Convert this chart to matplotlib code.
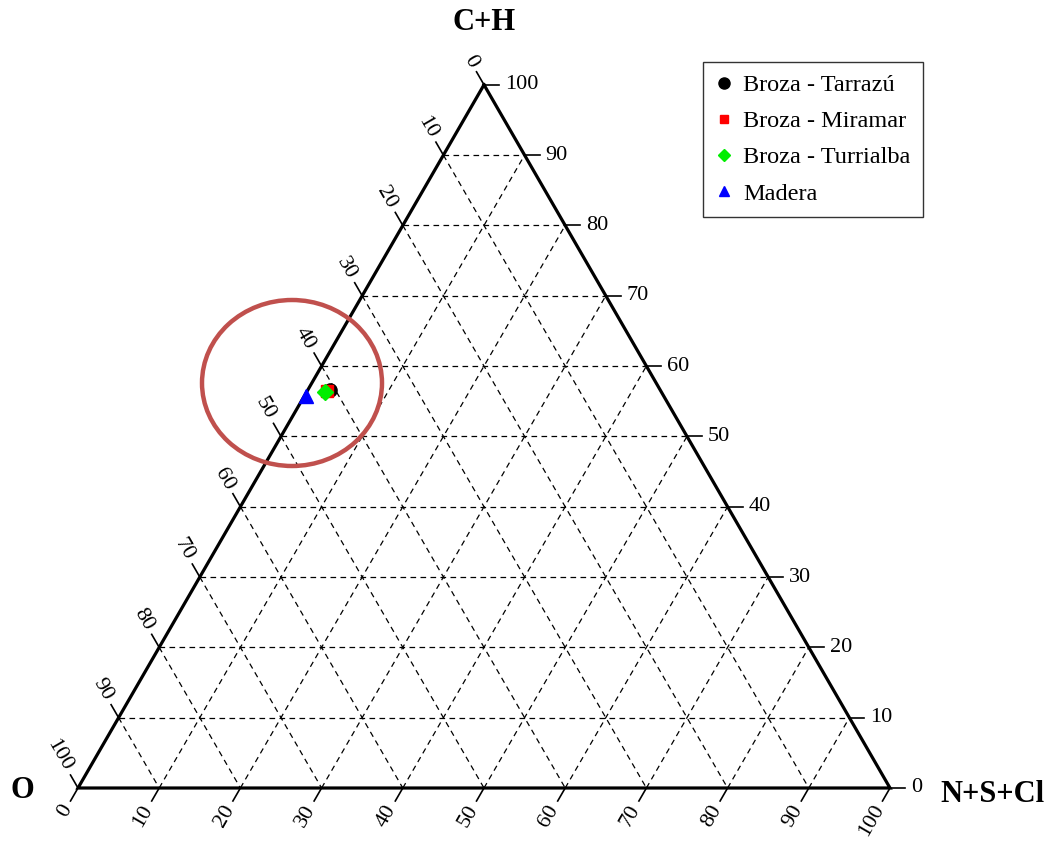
import numpy as np
import matplotlib
matplotlib.use("Agg")
import matplotlib.pyplot as plt
from matplotlib.lines import Line2D
from matplotlib.patches import Ellipse

plt.rcParams["font.family"] = ["Liberation Serif", "DejaVu Serif"]

# Composition (%) of each sample
series = ["Broza - Tarrazú", "Broza - Miramar", "Broza - Turrialba", "Madera"]
ch = [56.6, 56.4, 56.3, 55.7]
o = [40.7, 41.1, 41.4, 44.1]
nscl = [2.7, 2.5, 2.3, 0.2]

colors = ["black", "red", "#00ee00", "blue"]
markers = ["o", "s", "D", "^"]
plot_sizes = [9.5, 8, 8.5, 9.5]
legend_sizes = [8, 5.5, 6.5, 7.5]

ticks = list(range(0, 101, 10))

H = np.sqrt(3) / 2


def tern(c, ox, n):
    """Ternary (C+H, O, N+S+Cl) -> cartesian, O at left, N+S+Cl at right, C+H on top."""
    c, ox, n = np.asarray(c, float), np.asarray(ox, float), np.asarray(n, float)
    s = c + ox + n
    return (n + 0.5 * c) / s, H * c / s


PX = 812.0
fig = plt.figure(figsize=(10.5, 8.42), dpi=100)
ax = fig.add_axes([0, 0, 1, 1])
ax.set_xlim(-78 / PX, (1050 - 78) / PX)
ax.set_ylim(-(842 - 788) / PX, 788 / PX)
ax.axis("off")

# Dashed grid
grid_kw = dict(color="black", lw=0.9, ls=(0, (4.5, 3.5)), zorder=1)
for v in ticks[1:-1]:
    w = 100 - v
    # constant C+H (horizontal)
    x, y = tern([v, v], [w, 0], [0, w])
    ax.plot(x, y, **grid_kw)
    # constant O
    x, y = tern([w, 0], [v, v], [0, w])
    ax.plot(x, y, **grid_kw)
    # constant N+S+Cl
    x, y = tern([0, w], [w, 0], [v, v])
    ax.plot(x, y, **grid_kw)

# Triangle outline
x, y = tern([100, 0, 0, 100], [0, 100, 0, 0], [0, 0, 100, 0])
ax.plot(x, y, color="black", lw=2.3, solid_joinstyle="miter", zorder=3)

tick_len = 15 / PX
lab_gap = 21 / PX
tick_fs = 16

for v in ticks:
    w = 100 - v
    # C+H axis on the right edge
    x0, y0 = tern(v, 0, w)
    ax.plot([x0, x0 + tick_len], [y0, y0], color="black", lw=1.2, zorder=3)
    ax.text(x0 + lab_gap, y0, str(v), ha="left", va="center", fontsize=tick_fs)

    # O axis on the left edge
    x0, y0 = tern(w, v, 0)
    d = np.array([-0.5, H])
    ax.plot([x0, x0 + d[0] * tick_len], [y0, y0 + d[1] * tick_len],
            color="black", lw=1.2, zorder=3)
    ax.text(x0 + d[0] * lab_gap, y0 + d[1] * lab_gap, str(v), rotation=-60,
            rotation_mode="anchor", ha="right", va="center", fontsize=tick_fs)

    # N+S+Cl axis on the bottom edge
    x0, y0 = tern(0, w, v)
    d = np.array([-0.5, -H])
    ax.plot([x0, x0 + d[0] * tick_len], [y0, y0 + d[1] * tick_len],
            color="black", lw=1.2, zorder=3)
    ax.text(x0 + d[0] * lab_gap, y0 + d[1] * lab_gap, str(v), rotation=60,
            rotation_mode="anchor", ha="right", va="center", fontsize=tick_fs)

# Vertex titles
ax.text(0.5, (788 - 22) / PX, "C+H", ha="center", va="center",
        fontsize=22, fontweight="bold")
ax.text(-56 / PX, -2 / PX, "O", ha="center", va="center",
        fontsize=22, fontweight="bold")
ax.text(862 / PX, -7 / PX, "N+S+Cl", ha="left", va="center",
        fontsize=22, fontweight="bold")

# Samples
for name, c, ox, n, col, m, ms in zip(series, ch, o, nscl, colors, markers, plot_sizes):
    x, y = tern(c, ox, n)
    ax.plot(x, y, marker=m, ms=ms, color=col, mec=col, ls="none", zorder=5)

# Highlight around the cluster of samples
ax.add_patch(Ellipse((214 / PX, 405 / PX), 180 / PX, 166 / PX, fill=False,
                     edgecolor="#C0504D", lw=3.2, zorder=6))

handles = [Line2D([], [], marker=m, ms=ms, color=col, ls="none")
           for m, ms, col in zip(markers, legend_sizes, colors)]
leg = fig.legend(handles, series, loc="upper left",
                 bbox_to_anchor=(703 / 1050, 1 - 62 / 842),
                 fontsize=17.5, frameon=True, fancybox=False, shadow=False,
                 handlelength=0.7, handletextpad=0.45, labelspacing=0.58,
                 borderpad=0.5, borderaxespad=0)
leg.get_frame().set_edgecolor("black")
leg.get_frame().set_linewidth(1.0)

fig.savefig("out.png", dpi=100, facecolor="white")
